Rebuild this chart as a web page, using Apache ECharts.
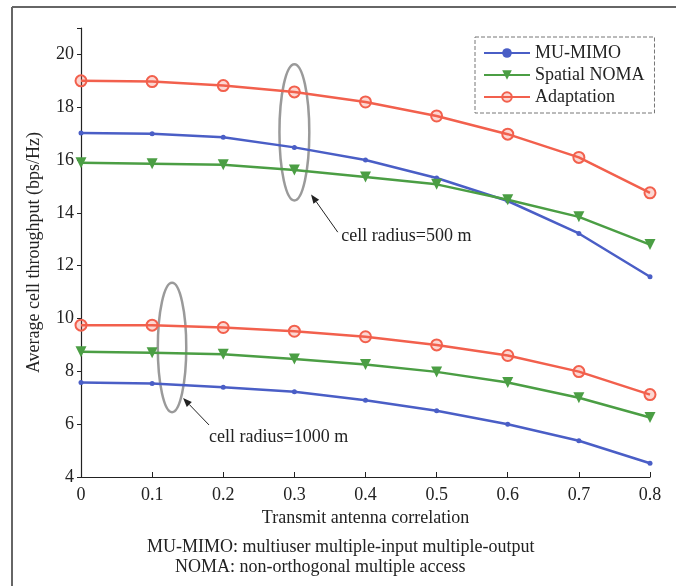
<!DOCTYPE html>
<html>
<head>
<meta charset="utf-8">
<script src="https://cdn.jsdelivr.net/npm/echarts@6/dist/echarts.min.js"></script>
<style>
  html, body { margin: 0; padding: 0; background: #fff; }
  #main { width: 676px; height: 586px; }
</style>
</head>
<body>
<div id="main"></div>
<script>
// transmit antenna correlation
var correlation = ['0', '0.1', '0.2', '0.3', '0.4', '0.5', '0.6', '0.7', '0.8'];
var xValues = [0, 0.1, 0.2, 0.3, 0.4, 0.5, 0.6, 0.7, 0.8];

// cell radius = 500 m
var mumimo500 = [17.02, 17.0, 16.86, 16.48, 16.0, 15.32, 14.45, 13.22, 11.58];
var noma500 = [15.9, 15.86, 15.82, 15.62, 15.36, 15.08, 14.5, 13.85, 12.8];
var adapt500 = [19.0, 18.97, 18.82, 18.58, 18.2, 17.67, 16.98, 16.1, 14.76];

// cell radius = 1000 m
var mumimo1000 = [7.58, 7.54, 7.4, 7.23, 6.91, 6.51, 6.0, 5.37, 4.52];
var noma1000 = [8.74, 8.7, 8.65, 8.47, 8.26, 7.98, 7.58, 7.0, 6.25];
var adapt1000 = [9.75, 9.75, 9.66, 9.52, 9.31, 9.0, 8.6, 7.99, 7.12];

var yTicks = [4, 6, 8, 10, 12, 14, 16, 18, 20];

var blue = '#4a5ec6';
var green = '#4b9e44';
var red = '#f2604d';
var serif = '"Liberation Serif", "DejaVu Serif", serif';

function pairs(ys) {
    return xValues.map(function (x, i) { return [x, ys[i]]; });
}

var chart = echarts.init(document.getElementById('main'));

function mumimo(data) {
    return {
        name: 'MU-MIMO', type: 'line', data: pairs(data),
        symbol: 'circle', symbolSize: 5,
        itemStyle: { color: blue },
        lineStyle: { color: blue, width: 2.5 }
    };
}
function noma(data) {
    return {
        name: 'Spatial NOMA', type: 'line', data: pairs(data),
        symbol: 'triangle', symbolRotate: 180, symbolSize: 11,
        itemStyle: { color: green },
        lineStyle: { color: green, width: 2.5 }
    };
}
function adapt(data) {
    return {
        name: 'Adaptation', type: 'line', data: pairs(data),
        symbol: 'circle', symbolSize: 11,
        itemStyle: { color: 'rgba(242,96,77,0.25)', borderColor: red, borderWidth: 2 },
        lineStyle: { color: red, width: 2.5 }
    };
}

var option = {
    backgroundColor: '#fff',
    animation: false,
    grid: { left: 81, right: 26, top: 28, bottom: 109 },
    legend: {
        orient: 'vertical',
        left: 475, top: 37,
        itemWidth: 46, itemHeight: 12, itemGap: 4,
        padding: [7, 10, 7, 8],
        borderColor: '#777', borderWidth: 1, borderType: 'dashed',
        backgroundColor: '#fff',
        textStyle: { fontFamily: serif, fontSize: 18, color: '#222' },
        data: ['MU-MIMO', 'Spatial NOMA', 'Adaptation']
    },
    xAxis: {
        type: 'value', min: 0, max: 0.8, interval: 0.1,
        name: 'Transmit antenna correlation',
        nameLocation: 'middle', nameGap: 30,
        nameTextStyle: { fontFamily: serif, fontSize: 18, color: '#222' },
        axisLine: { lineStyle: { color: '#222', width: 1.2 } },
        axisTick: { inside: true, length: 5, lineStyle: { color: '#222' } },
        axisLabel: {
            fontFamily: serif, fontSize: 18, color: '#222', margin: 9,
            formatter: function (v) { return correlation[Math.round(v * 10)]; }
        },
        splitLine: { show: false }
    },
    yAxis: {
        type: 'value', min: 4, max: 21, interval: 2,
        name: 'Average cell throughput (bps/Hz)',
        nameLocation: 'middle', nameGap: 38,
        nameTextStyle: { fontFamily: serif, fontSize: 18, color: '#222' },
        axisLine: { show: true, lineStyle: { color: '#222', width: 1.2 } },
        axisTick: { show: true, length: 4, lineStyle: { color: '#222' } },
        axisLabel: {
            fontFamily: serif, fontSize: 18, color: '#222', margin: 7,
            formatter: function (v) { return yTicks.indexOf(v) >= 0 ? String(v) : ''; }
        },
        splitLine: { show: false }
    },
    series: [
        mumimo(mumimo500), noma(noma500), adapt(adapt500),
        mumimo(mumimo1000), noma(noma1000), adapt(adapt1000)
    ]
};
chart.setOption(option);

// annotations placed in data coordinates
function px(x, y) { return chart.convertToPixel({ gridIndex: 0 }, [x, y]); }

function ellipse(cx, cy, hx, hy) {
    var c = px(cx, cy), e = px(cx + hx, cy + hy);
    return {
        type: 'ellipse', z: 1,
        shape: { cx: c[0], cy: c[1], rx: Math.abs(e[0] - c[0]), ry: Math.abs(e[1] - c[1]) },
        style: { fill: null, stroke: 'rgba(120,120,120,0.75)', lineWidth: 2.5 }
    };
}

function arrow(x0, y0, x1, y1) {
    var a = px(x0, y0), b = px(x1, y1);
    var ang = Math.atan2(b[1] - a[1], b[0] - a[0]);
    var L = 9, W = 3.5;
    var bx = b[0] - L * Math.cos(ang), by = b[1] - L * Math.sin(ang);
    return [
        { type: 'line', z: 10, shape: { x1: a[0], y1: a[1], x2: bx, y2: by },
          style: { stroke: '#222', lineWidth: 1 } },
        { type: 'polygon', z: 10,
          shape: { points: [b,
              [bx + W * Math.sin(ang), by - W * Math.cos(ang)],
              [bx - W * Math.sin(ang), by + W * Math.cos(ang)]] },
          style: { fill: '#222' } }
    ];
}

function label(x, y, text) {
    var p = px(x, y);
    return { type: 'text', z: 10, x: p[0], y: p[1],
        style: { text: text, fontFamily: serif, fontSize: 18, fill: '#222',
                 align: 'left', verticalAlign: 'middle' } };
}

var g = [
    // figure frame
    { type: 'line', shape: { x1: 12, y1: 7, x2: 676, y2: 7 }, style: { stroke: '#666', lineWidth: 2 } },
    { type: 'line', shape: { x1: 12, y1: 7, x2: 12, y2: 586 }, style: { stroke: '#666', lineWidth: 2 } },
    ellipse(0.3, 17.05, 0.021, 2.58),
    ellipse(0.128, 8.9, 0.02, 2.45),
    label(0.366, 13.1, 'cell radius=500 m'),
    label(0.18, 5.5, 'cell radius=1000 m'),
    { type: 'text', left: 147, top: 538,
      style: { text: 'MU-MIMO: multiuser multiple-input multiple-output', fontFamily: serif, fontSize: 18, fill: '#222' } },
    { type: 'text', left: 175, top: 558,
      style: { text: 'NOMA: non-orthogonal multiple access', fontFamily: serif, fontSize: 18, fill: '#222' } }
].concat(arrow(0.361, 13.27, 0.3235, 14.7), arrow(0.18, 5.97, 0.1435, 6.99));

chart.setOption({ graphic: g });
</script>
</body>
</html>
